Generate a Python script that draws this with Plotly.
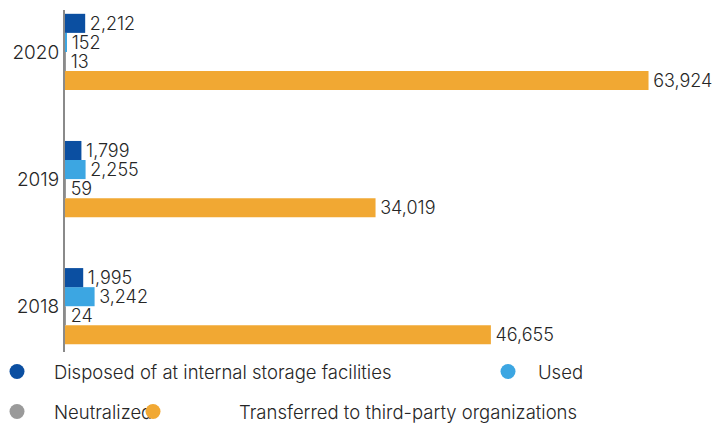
import plotly.graph_objects as go

years = ["2018", "2019", "2020"]
disposed = [1995, 1799, 2212]
used = [3242, 2255, 152]
neutralized = [24, 59, 13]
transferred = [46655, 34019, 63924]

names = ["Disposed of at internal storage facilities", "Used",
         "Neutralized", "Transferred to third-party organizations"]
colors = ["#0B4FA1", "#3CA6E2", "#9A9A9A", "#F1A833"]

# the page body adds an 8px margin, so lay out in shifted coordinates
OFF = 8
W, H = 720 - OFF, 428 - OFF
L, T, R = 65 - OFF, 10 - OFF, 16
BOTTOM = 352 - OFF
pw = W - L - R
ph = BOTTOM - T

fig = go.Figure()

# plotly puts the first trace at the bottom of each group
series = [transferred, neutralized, used, disposed]
for i, vals in zip([3, 2, 1, 0], series):
    fig.add_trace(go.Bar(
        y=years, x=vals, orientation="h", name=names[i],
        marker=dict(color=colors[i], line=dict(width=0)),
        text=[f"\u200a{v:,}" for v in vals], textposition="outside",
        constraintext="none",
        textfont=dict(size=18, color="#262626", weight=300),
        cliponaxis=False, showlegend=False,
    ))

# one small legend per entry, so they sit where the original has them
leg_ids = ["legend", "legend2", "legend3", "legend4"]
for i in range(4):
    fig.add_trace(go.Scatter(
        x=[None], y=[None], mode="markers", name=names[i],
        marker=dict(symbol="circle", size=15, color=colors[i]),
        legend=leg_ids[i],
    ))

# (marker x, text x, row y) of each legend entry in the original
leg_pos = [(17, 54, 372), (508, 538, 372), (17, 54, 412), (153, 239, 412)]
legends = {}
for lid, (mx, tx, ly) in zip(leg_ids, leg_pos):
    iw = 2 * (tx - mx) - 10
    lx = mx - iw / 2 - 5
    legends[lid] = dict(x=(lx - OFF - L) / pw, xanchor="left",
                        y=(BOTTOM - (ly - OFF)) / ph, yanchor="middle",
                        orientation="h", itemwidth=iw,
                        font=dict(size=18.5, color="#262626", weight=300),
                        bgcolor="rgba(0,0,0,0)")

fig.update_layout(
    width=W, height=H,
    margin=dict(l=L, r=R, t=T, b=H - BOTTOM, autoexpand=False),
    paper_bgcolor="white", plot_bgcolor="white",
    font=dict(family="Inter", size=16, color="#262626"),
    barmode="group", bargap=0.4, bargroupgap=0,
    xaxis=dict(range=[0, 70000], visible=False),
    yaxis=dict(range=[-0.36, 2.33], showline=True, linecolor="#8a8a8a",
               linewidth=2, showgrid=False, ticks="", zeroline=False,
               automargin=False, tickfont=dict(size=19, weight=300)),
    **legends,
)

fig.write_html("out.html")
